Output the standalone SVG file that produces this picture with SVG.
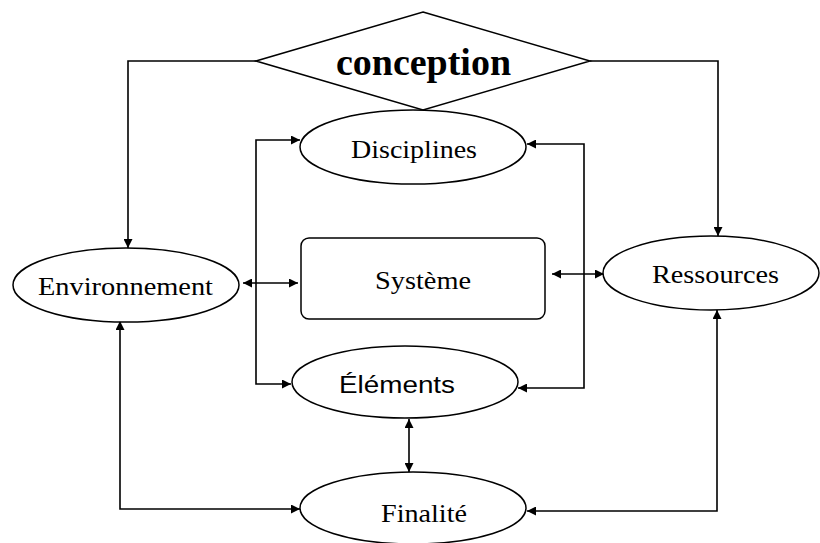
<svg xmlns="http://www.w3.org/2000/svg" width="820" height="543" viewBox="0 0 820 543">
<style>
.shape{fill:#fff;stroke:#000;stroke-width:1.5}
.con{fill:none;stroke:#000;stroke-width:1.6}
.t{font-family:"Liberation Serif","Times New Roman",serif;font-size:26px;fill:#000;text-anchor:middle}
.s{font-family:"Liberation Sans",Arial,sans-serif;font-size:23px;fill:#000;text-anchor:middle}
.b{font-family:"Liberation Serif","Times New Roman",serif;font-size:38px;font-weight:bold;fill:#000;text-anchor:middle}
</style>
<defs>
<marker id="ah" viewBox="0 0 10 10" refX="10" refY="5" markerWidth="11" markerHeight="9" markerUnits="userSpaceOnUse" orient="auto-start-reverse">
<path d="M0,0 L10,5 L0,10 z" fill="#000"/>
</marker>
</defs>
<rect width="820" height="543" fill="#fff"/>
<g id="connectors">
<polyline class="con" points="256,61 128,61 128,248" marker-end="url(#ah)"/>
<polyline class="con" points="590,61 718,61 718,236" marker-end="url(#ah)"/>
<line class="con" x1="243" y1="283" x2="298" y2="283" marker-start="url(#ah)" marker-end="url(#ah)"/>
<line class="con" x1="552" y1="274" x2="604" y2="274" marker-start="url(#ah)" marker-end="url(#ah)"/>
<polyline class="con" points="300,140 256,140 256,384 291,384" marker-start="url(#ah)" marker-end="url(#ah)"/>
<polyline class="con" points="527,144 584,144 584,388 518,388" marker-start="url(#ah)" marker-end="url(#ah)"/>
<line class="con" x1="409" y1="419" x2="409" y2="472" marker-start="url(#ah)" marker-end="url(#ah)"/>
<polyline class="con" points="120,321 120,509 300,509" marker-start="url(#ah)" marker-end="url(#ah)"/>
<polyline class="con" points="717,310 717,511 527,511" marker-start="url(#ah)" marker-end="url(#ah)"/>
</g>
<g id="conception">
<polygon class="shape" points="423,12 590,61 423,110 256,61"/>
<text class="b" x="423.5" y="75" textLength="175" lengthAdjust="spacingAndGlyphs">conception</text>
</g>
<g id="disciplines">
<ellipse class="shape" cx="413" cy="147" rx="113" ry="37"/>
<text class="t" x="414" y="158" textLength="126" lengthAdjust="spacingAndGlyphs">Disciplines</text>
</g>
<g id="environnement">
<ellipse class="shape" cx="126" cy="285" rx="113" ry="37"/>
<text class="t" x="125.5" y="295" textLength="175" lengthAdjust="spacingAndGlyphs">Environnement</text>
</g>
<g id="systeme">
<rect class="shape" x="301" y="238" width="244" height="81" rx="8"/>
<text class="t" x="423" y="289" textLength="96" lengthAdjust="spacingAndGlyphs">Système</text>
</g>
<g id="ressources">
<ellipse class="shape" cx="711" cy="273" rx="108" ry="37"/>
<text class="t" x="715.5" y="283" textLength="127" lengthAdjust="spacingAndGlyphs">Ressources</text>
</g>
<g id="elements">
<ellipse class="shape" cx="405" cy="382" rx="113" ry="36"/>
<text class="s" x="397" y="393" textLength="116" lengthAdjust="spacingAndGlyphs">Éléments</text>
</g>
<g id="finalite">
<ellipse class="shape" cx="413" cy="508" rx="113" ry="36"/>
<text class="t" x="424" y="522" textLength="86" lengthAdjust="spacingAndGlyphs">Finalité</text>
</g>
</svg>
